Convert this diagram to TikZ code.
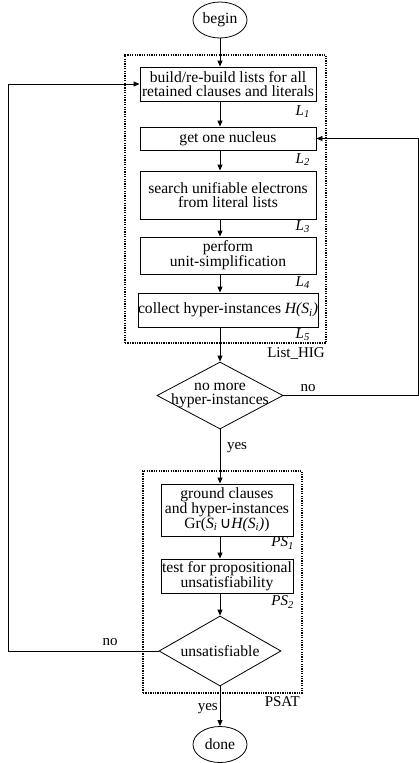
\documentclass[tikz,border=0pt]{standalone}
\usepackage{fontspec}
\setmainfont{Liberation Serif}
\newfontfamily\symf{DejaVu Sans}
\usetikzlibrary{shapes.geometric,arrows.meta}
\begin{document}
\begin{tikzpicture}[x=1pt,y=-1pt,
  font=\fontsize{15.6}{14.8}\selectfont,
  box/.style={draw,line width=0.9pt,align=center,inner sep=0pt,minimum width=176pt},
  pbox/.style={draw,line width=0.9pt,align=center,inner sep=0pt,minimum width=132pt},
  term/.style={draw,ellipse,line width=0.8pt,inner sep=0pt,minimum width=54pt,minimum height=36pt},
  dia/.style={draw,diamond,line width=0.8pt,inner sep=0pt},
  dtext/.style={align=center,inner sep=0pt},
  lab/.style={font=\fontsize{15}{15}\selectfont\itshape,inner sep=0pt,anchor=east},
  tag/.style={font=\fontsize{15}{15}\selectfont,inner sep=0pt},
  grp/.style={draw,line width=1.3pt,dash pattern=on 1.3pt off 1.1pt,inner sep=0pt},
  arr/.style={line width=0.9pt,-{Triangle[length=6pt,width=5pt]}}
]
\useasboundingbox (0,0) rectangle (419,763);

% groups
\node[grp,minimum width=201pt,minimum height=288pt] (hig) at (225.5,199) {};
\node[grp,minimum width=159pt,minimum height=222pt] (psat) at (222.5,582) {};

% terminals
\node[term] (begin) at (220,20) {begin};
\node[term] (done) at (220,744.5) {done};

% List_HIG boxes
\node[box,minimum height=34pt] (L1) at (228,84) {build/re-build lists for all\\retained clauses and literals};
\node[box,minimum height=23pt] (L2) at (228,138.5) {get one nucleus};
\node[box,minimum height=48pt] (L3) at (228,195) {search unifiable electrons\\from literal lists};
\node[box,minimum height=37pt] (L4) at (228,255.5) {perform\\unit-simplification};
\node[box,minimum height=34pt] (L5) at (228,310) {collect hyper-instances \textit{H(S\textsubscript{i})}};

\node[lab] (l1) at (310,112) {L\textsubscript{1}};
\node[lab] (l2) at (310,160) {L\textsubscript{2}};
\node[lab] (l3) at (310,227) {L\textsubscript{3}};
\node[lab] (l4) at (310,283) {L\textsubscript{4}};
\node[lab] (l5) at (310,335) {L\textsubscript{5}};
\node[tag,anchor=east] (higlab) at (325,353) {List\_HIG};

% decision 1
\node[dia,minimum width=126pt,minimum height=67pt] (d1) at (220,395.5) {};
\node[dtext] (d1t) at (d1.center) {no more\\hyper-instances};

% PSAT boxes
\node[pbox,minimum height=52pt] (PS1) at (227,510) {ground clauses\\and hyper-instances\\Gr(\textit{S\textsubscript{i}}\,{\symf ∪}\textit{H(S\textsubscript{i})})};
\node[pbox,minimum height=34pt] (PS2) at (227,576) {test for propositional\\unsatisfiability};
\node[lab] (p1) at (294,543) {PS\textsubscript{1}};
\node[lab] (p2) at (294,602) {PS\textsubscript{2}};
\node[tag,anchor=east] (psatlab) at (300,702) {PSAT};

% decision 2
\node[dia,minimum width=122pt,minimum height=70pt] (d2) at (220,651) {};
\node[dtext] (d2t) at (d2.center) {unsatisfiable};

% edge labels
\node[tag] (no1) at (308,388) {no};
\node[tag] (yes1) at (237,448) {yes};
\node[tag] (no2) at (110,642) {no};
\node[tag,anchor=east] (yes2) at (218,709) {yes};

% connectors
\coordinate (rt) at (418,395.5);
\coordinate (lt) at (8,651);
\draw[arr] (begin.south) -- (begin.south |- L1.north);
\draw[arr] (L1.south -| begin.center) -- (L2.north -| begin.center);
\draw[arr] (L2.south -| begin.center) -- (L3.north -| begin.center);
\draw[arr] (L3.south -| begin.center) -- (L4.north -| begin.center);
\draw[arr] (L4.south -| begin.center) -- (L5.north -| begin.center);
\draw[arr] (L5.south -| begin.center) -- (d1.north);
\draw[arr] (d1.south) -- (d1.south |- PS1.north);
\draw[arr] (PS1.south -| d1.center) -- (PS2.north -| d1.center);
\draw[arr] (PS2.south -| d1.center) -- (d2.north);
\draw[arr] (d2.south) -- (done.north);
\draw[arr] (d1.east) -- (rt) |- (L2.east);
\draw[arr] (d2.west) -- (lt) |- (L1.west);
\end{tikzpicture}
\end{document}
